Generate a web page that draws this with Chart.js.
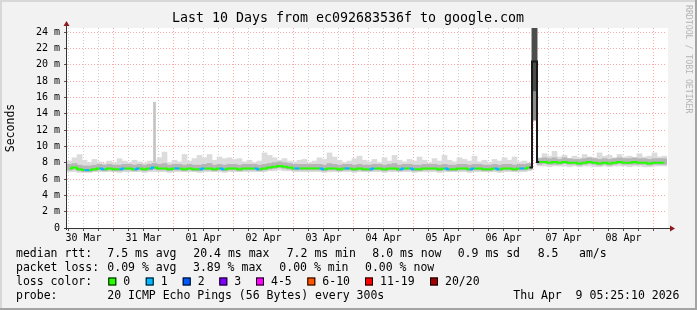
<!DOCTYPE html>
<html>
<head>
<meta charset="utf-8">
<script src="https://cdn.jsdelivr.net/npm/chart.js@4.4.0/dist/chart.umd.min.js"></script>
<style>
html, body { margin: 0; padding: 0; background: #f2f2f2; }
canvas { display: block; }
</style>
</head>
<body>
<canvas id="smokeChart" width="697" height="310"></canvas>
<script>
// Day labels, placed at noon of each day (hours counted from 30 Mar 00:00)
const dayLabels = ['30 Mar', '31 Mar', '01 Apr', '02 Apr', '03 Apr', '04 Apr', '05 Apr', '06 Apr', '07 Apr', '08 Apr'];
const yTicks = [0, 1, 2, 3, 4, 5, 6, 7, 8, 9, 10, 11, 12, 13, 14, 15, 16, 17, 18, 19, 20, 21, 22, 23, 24];

// 2-hour bins, first one centred on 30 Mar 06:25
const firstBinHour = 6.42;
const binHours = 2;

// median rtt per bin (ms)
const medianRtt = [
  7.3, 7.4, 7.2, 7.1, 7.1, 7.2, 7.3, 7.2, 7.3, 7.2, 7.2, 7.3,
  7.3, 7.2, 7.3, 7.2, 7.3, 7.4, 7.3, 7.3, 7.2, 7.3, 7.3, 7.2,
  7.3, 7.2, 7.2, 7.3, 7.3, 7.2, 7.3, 7.2, 7.3, 7.3, 7.2, 7.3,
  7.3, 7.3, 7.2, 7.3, 7.4, 7.5, 7.6, 7.5, 7.4, 7.3, 7.3, 7.3,
  7.3, 7.3, 7.3, 7.2, 7.3, 7.3, 7.2, 7.3, 7.3, 7.2, 7.3, 7.2,
  7.2, 7.3, 7.3, 7.2, 7.3, 7.3, 7.2, 7.3, 7.3, 7.2, 7.2, 7.3,
  7.3, 7.3, 7.2, 7.3, 7.2, 7.2, 7.3, 7.3, 7.2, 7.3, 7.3, 7.2,
  7.2, 7.3, 7.2, 7.3, 7.3, 7.2, 7.3, 7.3, 7.4, 20.4, 8.1, 8.1,
  8.0, 8.1, 8.0, 8.1, 8.0, 8.0, 7.9, 8.0, 8.1, 8.0, 7.9, 8.0,
  7.9, 8.0, 8.1, 8.0, 8.0, 8.1, 8.0, 8.0, 7.9, 8.0, 8.0, 8.0
];

// lost pings (of 20) per bin
const lossCount = [
  0, 0, 0, 1, 0, 0, 1, 0, 0, 0, 1, 0,
  0, 1, 0, 0, 1, 0, 0, 0, 0, 1, 0, 0,
  0, 0, 1, 0, 0, 0, 1, 0, 0, 0, 0, 0,
  0, 1, 0, 0, 0, 0, 0, 0, 0, 1, 0, 0,
  0, 0, 1, 0, 0, 0, 0, 1, 0, 0, 0, 0,
  1, 0, 0, 0, 0, 0, 1, 0, 1, 0, 0, 0,
  0, 0, 0, 1, 0, 0, 0, 0, 1, 0, 0, 0,
  0, 1, 0, 0, 0, 0, 1, 0, 1, 1, 0, 0,
  0, 0, 0, 0, 0, 0, 0, 0, 0, 0, 0, 0,
  0, 0, 0, 0, 0, 0, 0, 0, 0, 0, 0, 0
];

// smoke: fastest / low quartile / high quartile / slowest ping per bin (ms)
const smokeMin = [
  6.9, 6.9, 6.8, 6.8, 6.8, 6.9, 6.9, 6.9, 6.9, 6.9, 6.8, 6.9,
  6.9, 6.9, 6.9, 6.8, 6.9, 6.9, 6.9, 6.9, 6.8, 6.9, 6.9, 6.9,
  6.9, 6.9, 6.8, 6.9, 6.9, 6.9, 6.9, 6.8, 6.9, 6.9, 6.9, 6.9,
  6.9, 6.9, 6.9, 6.9, 7.0, 7.0, 7.1, 7.0, 7.0, 6.9, 6.9, 6.9,
  6.9, 6.9, 6.9, 6.8, 6.9, 6.9, 6.9, 6.9, 6.9, 6.8, 6.9, 6.9,
  6.9, 6.9, 6.9, 6.8, 6.9, 6.9, 6.9, 6.9, 6.9, 6.8, 6.9, 6.9,
  6.9, 6.9, 6.8, 6.9, 6.9, 6.9, 6.9, 6.9, 6.8, 6.9, 6.9, 6.9,
  6.9, 6.9, 6.8, 6.9, 6.9, 6.9, 6.9, 6.9, 7.0, 13.2, 7.6, 7.6,
  7.5, 7.6, 7.6, 7.6, 7.5, 7.6, 7.5, 7.6, 7.6, 7.5, 7.5, 7.6,
  7.5, 7.6, 7.6, 7.6, 7.5, 7.6, 7.6, 7.5, 7.5, 7.6, 7.6, 7.6
];
const smokeLow = [
  7.1, 7.2, 7.0, 6.9, 6.9, 7.0, 7.1, 7.0, 7.1, 7.0, 7.0, 7.1,
  7.1, 7.0, 7.1, 7.0, 7.1, 7.2, 7.1, 7.1, 7.0, 7.1, 7.1, 7.0,
  7.1, 7.0, 7.0, 7.1, 7.1, 7.0, 7.1, 7.0, 7.1, 7.1, 7.0, 7.1,
  7.1, 7.1, 7.0, 7.1, 7.2, 7.3, 7.4, 7.3, 7.2, 7.1, 7.1, 7.1,
  7.1, 7.1, 7.1, 7.0, 7.1, 7.1, 7.0, 7.1, 7.1, 7.0, 7.1, 7.0,
  7.0, 7.1, 7.1, 7.0, 7.1, 7.1, 7.0, 7.1, 7.1, 7.0, 7.0, 7.1,
  7.1, 7.1, 7.0, 7.1, 7.0, 7.0, 7.1, 7.1, 7.0, 7.1, 7.1, 7.0,
  7.0, 7.1, 7.0, 7.1, 7.1, 7.0, 7.1, 7.1, 7.2, 16.8, 7.8, 7.9,
  7.8, 7.8, 7.8, 7.9, 7.8, 7.8, 7.7, 7.8, 7.9, 7.8, 7.7, 7.8,
  7.7, 7.8, 7.9, 7.8, 7.8, 7.8, 7.8, 7.8, 7.7, 7.8, 7.8, 7.8
];
const smokeHigh = [
  7.8, 7.9, 7.7, 7.6, 7.6, 7.7, 7.8, 7.7, 7.8, 7.7, 7.7, 7.8,
  7.8, 7.7, 7.8, 7.7, 7.8, 7.9, 7.8, 7.9, 7.7, 7.8, 7.8, 7.7,
  7.8, 7.7, 7.7, 7.8, 7.9, 7.7, 7.8, 7.7, 7.8, 7.8, 7.7, 7.8,
  7.8, 7.8, 7.7, 7.8, 7.9, 8.0, 8.1, 8.0, 7.9, 7.8, 7.8, 7.8,
  7.8, 7.8, 7.8, 7.7, 7.9, 7.8, 7.7, 7.8, 7.8, 7.7, 7.8, 7.7,
  7.7, 7.8, 7.8, 7.7, 7.8, 7.9, 7.7, 7.8, 7.8, 7.7, 7.7, 7.8,
  7.8, 7.8, 7.7, 7.8, 7.7, 7.7, 7.8, 7.8, 7.7, 7.8, 7.8, 7.7,
  7.7, 7.8, 7.7, 7.8, 7.8, 7.7, 7.8, 7.8, 7.9, 24.5, 8.5, 8.6,
  8.5, 8.6, 8.4, 8.6, 8.5, 8.4, 8.4, 8.5, 8.6, 8.5, 8.4, 8.5,
  8.4, 8.5, 8.6, 8.5, 8.5, 8.6, 8.5, 8.5, 8.4, 8.5, 8.5, 8.5
];
const smokeMax = [
  8.2, 8.6, 9.0, 8.3, 8.0, 8.4, 8.1, 7.9, 8.2, 8.0, 8.5, 8.2,
  8.0, 8.3, 8.1, 7.9, 8.2, 8.1, 8.6, 9.3, 8.0, 8.3, 8.1, 9.0,
  8.2, 8.5, 8.9, 8.6, 9.0, 8.3, 8.7, 8.5, 8.6, 8.4, 8.5, 8.1,
  8.3, 8.0, 8.2, 9.2, 8.9, 8.6, 8.3, 8.5, 8.2, 8.1, 8.3, 8.4,
  8.0, 8.2, 8.6, 8.4, 9.2, 8.7, 8.3, 8.0, 8.2, 8.5, 8.8, 8.3,
  8.1, 8.4, 8.0, 8.6, 8.2, 8.9, 8.3, 8.1, 8.4, 8.2, 8.7, 8.3,
  8.0, 8.5, 8.2, 8.9, 8.3, 8.1, 8.6, 8.4, 8.2, 8.8, 8.1, 8.3,
  8.0, 8.4, 8.2, 8.6, 8.3, 8.7, 8.1, 8.2, 7.9, 24.5, 8.6, 9.1,
  8.8, 9.4, 8.7, 8.9, 8.5, 8.8, 8.6, 9.0, 8.7, 8.6, 9.2, 8.8,
  8.9, 8.6, 9.0, 8.7, 8.8, 8.6, 9.1, 8.7, 8.8, 9.2, 8.7, 8.8
];
// single slow ping on 31 Mar (bin index, low, high)
const outlierBin = [17];
const outlierLow = [8.1];
const outlierHigh = [15.4];

const lossLabels = ['0', '1', '2', '3', '4-5', '6-10', '11-19', '20/20'];
const lossColors = ['#26ff00', '#00b8ff', '#0059ff', '#7e00ff', '#ff00ff', '#ff5500', '#ff0000', '#a10000'];

const statRows = [
  ['median rtt:', '7.5 ms avg', '20.4 ms max', '7.2 ms min', '8.0 ms now', '0.9 ms sd', '8.5', 'am/s'],
  ['packet loss:', '0.09 % avg', '3.89 % max', '0.00 % min', '0.00 % now']
];
const probeText = ['probe:', '20 ICMP Echo Pings (56 Bytes) every 300s', 'Thu Apr  9 05:25:10 2026'];
const titleText = 'Last 10 Days from ec092683536f to google.com';

const MONO = '"DejaVu Sans Mono", "Liberation Mono", monospace';

function binX(i) { return firstBinHour + i * binHours; }
function band(lo, hi) { return lo.map((v, i) => ({ x: binX(i), y: [v, hi[i]] })); }

// Frame, white plot area, axes, title and legend
const rrdFrame = {
  id: 'rrdFrame',
  beforeDraw(chart) {
    const ctx = chart.ctx, a = chart.chartArea, w = chart.width, h = chart.height;
    ctx.save();
    ctx.fillStyle = '#f2f2f2';
    ctx.fillRect(0, 0, w, h);
    ctx.fillStyle = '#d8d8d8';
    ctx.fillRect(0, 0, w, 2);
    ctx.fillRect(0, 0, 2, h);
    ctx.fillStyle = '#a4a4a4';
    ctx.fillRect(w - 2, 0, 2, h);
    ctx.fillRect(0, h - 2, w, 2);
    ctx.fillStyle = '#ffffff';
    ctx.fillRect(a.left, a.top, a.right - a.left + 1, a.bottom - a.top);
    ctx.restore();
  },
  afterDraw(chart) {
    const ctx = chart.ctx, a = chart.chartArea;
    ctx.save();
    // axes
    ctx.strokeStyle = '#333';
    ctx.lineWidth = 1;
    ctx.beginPath();
    ctx.moveTo(a.left - 0.5, a.bottom + 2);
    ctx.lineTo(a.left - 0.5, a.top - 4);
    ctx.moveTo(a.left - 3, a.bottom + 0.5);
    ctx.lineTo(a.right + 3, a.bottom + 0.5);
    ctx.stroke();
    ctx.fillStyle = '#8b1a1a';
    ctx.beginPath();
    ctx.moveTo(a.left - 0.5, a.top - 7);
    ctx.lineTo(a.left - 3.5, a.top - 2);
    ctx.lineTo(a.left + 2.5, a.top - 2);
    ctx.fill();
    ctx.beginPath();
    ctx.moveTo(a.right + 8, a.bottom + 0.5);
    ctx.lineTo(a.right + 3, a.bottom - 2.5);
    ctx.lineTo(a.right + 3, a.bottom + 3.5);
    ctx.fill();

    // title
    ctx.fillStyle = '#000';
    ctx.textBaseline = 'middle';
    ctx.textAlign = 'center';
    ctx.font = '13.3px ' + MONO;
    ctx.fillText(titleText, 348, 19);

    // y axis title
    ctx.save();
    ctx.translate(11, 128);
    ctx.rotate(-Math.PI / 2);
    ctx.font = '11.5px ' + MONO;
    ctx.fillText('Seconds', 0, 0);
    ctx.restore();

    // watermark
    ctx.save();
    ctx.translate(688.5, 5);
    ctx.rotate(Math.PI / 2);
    ctx.textAlign = 'left';
    ctx.fillStyle = '#b4b4b4';
    ctx.font = '8.2px ' + MONO;
    ctx.fillText('RRDTOOL / TOBI OETIKER', 0, 0);
    ctx.restore();

    // legend rows
    ctx.textAlign = 'left';
    ctx.fillStyle = '#000';
    ctx.font = '11.5px ' + MONO;
    const row1X = [16, 107.3, 193.3, 286.7, 372.3, 457.7, 537.7, 579];
    const row2X = [16, 107.3, 193, 279.3, 365];
    statRows[0].forEach((t, i) => ctx.fillText(t, row1X[i], 254.5));
    statRows[1].forEach((t, i) => ctx.fillText(t, row2X[i], 268.5));
    ctx.fillText('loss color:', 16, 282);
    const boxX = [108.3, 145.7, 182.7, 219.3, 256, 307.3, 365, 430];
    lossLabels.forEach((t, i) => {
      ctx.fillStyle = lossColors[i];
      ctx.fillRect(boxX[i], 277.5, 8, 8);
      ctx.strokeStyle = '#000';
      ctx.strokeRect(boxX[i] + 0.5, 277.5 + 0.5, 7, 7);
      ctx.fillStyle = '#000';
      ctx.fillText(t, boxX[i] + 15, 282);
    });
    const row4X = [16, 107.3, 513.3];
    probeText.forEach((t, i) => ctx.fillText(t, row4X[i], 296));
    ctx.restore();
  }
};

const isSpike = c => {
  const r = c.raw && c.raw.y;
  return r && (r[1] - r[0]) > 4;
};

const ctx = document.getElementById('smokeChart');
new Chart(ctx, {
  type: 'bar',
  data: {
    datasets: [
      {
        type: 'line',
        label: 'median rtt',
        data: medianRtt.map((v, i) => ({ x: binX(i), y: v })),
        stepped: 'middle',
        borderColor: lossColors[0],
        borderWidth: 2,
        pointRadius: 0,
        segment: {
          borderColor: c => Math.abs(c.p1.parsed.y - c.p0.parsed.y) > 3
            ? '#1a1a1a'
            : lossColors[lossCount[c.p0DataIndex]]
        },
        order: 0
      },
      {
        label: 'smoke mid',
        data: band(smokeLow, smokeHigh),
        backgroundColor: c => isSpike(c) ? '#4c4c4c' : '#b6b6b6',
        borderWidth: 0,
        grouped: false,
        barPercentage: 1,
        categoryPercentage: 1,
        order: 1
      },
      {
        label: 'outlier',
        data: outlierBin.map((b, i) => ({ x: binX(b), y: [outlierLow[i], outlierHigh[i]] })),
        backgroundColor: '#c4c4c4',
        borderWidth: 0,
        grouped: false,
        barThickness: 2,
        order: 2
      },
      {
        label: 'smoke',
        data: band(smokeMin, smokeMax),
        backgroundColor: c => isSpike(c) ? '#8c8c8c' : '#dcdcdc',
        borderWidth: 0,
        grouped: false,
        barPercentage: 1,
        categoryPercentage: 1,
        order: 3
      }
    ]
  },
  options: {
    responsive: false,
    animation: false,
    layout: { padding: { left: 0, right: 30, top: 28, bottom: 66 } },
    plugins: { legend: { display: false }, tooltip: { enabled: false } },
    scales: {
      x: {
        type: 'linear',
        min: 5.4167,
        max: 245.4167,
        offset: false,
        afterFit: s => { s.height = 16; },
        afterBuildTicks: s => {
          const t = [];
          for (let h = 6; h <= 240; h += 6) t.push({ value: h });
          s.ticks = t;
        },
        grid: {
          offset: false,
          color: c => c.tick && c.tick.value % 24 === 0 ? 'rgba(255,0,0,0.35)' : 'rgba(0,0,0,0.2)',
          tickLength: 3,
          tickColor: '#555'
        },
        border: { display: false, dash: [1, 2] },
        ticks: {
          autoSkip: false,
          maxRotation: 0,
          padding: 1,
          color: '#000',
          font: { family: MONO, size: 10 },
          callback: v => (v % 24 === 12 ? dayLabels[(v - 12) / 24] : '')
        }
      },
      y: {
        type: 'linear',
        min: 0,
        max: 24.5,
        afterFit: s => { s.width = 67; },
        afterBuildTicks: s => { s.ticks = yTicks.map(v => ({ value: v })); },
        grid: {
          color: c => c.tick && c.tick.value % 2 === 0 ? 'rgba(255,0,0,0.35)' : 'rgba(0,0,0,0.2)',
          tickLength: 3,
          tickColor: '#555'
        },
        border: { display: false, dash: [1, 2] },
        ticks: {
          padding: 4,
          color: '#000',
          font: { family: MONO, size: 10 },
          callback: v => (v % 2 === 0 ? (v === 0 ? '0' : v + ' m') : '')
        }
      }
    }
  },
  plugins: [rrdFrame]
});
</script>
</body>
</html>
